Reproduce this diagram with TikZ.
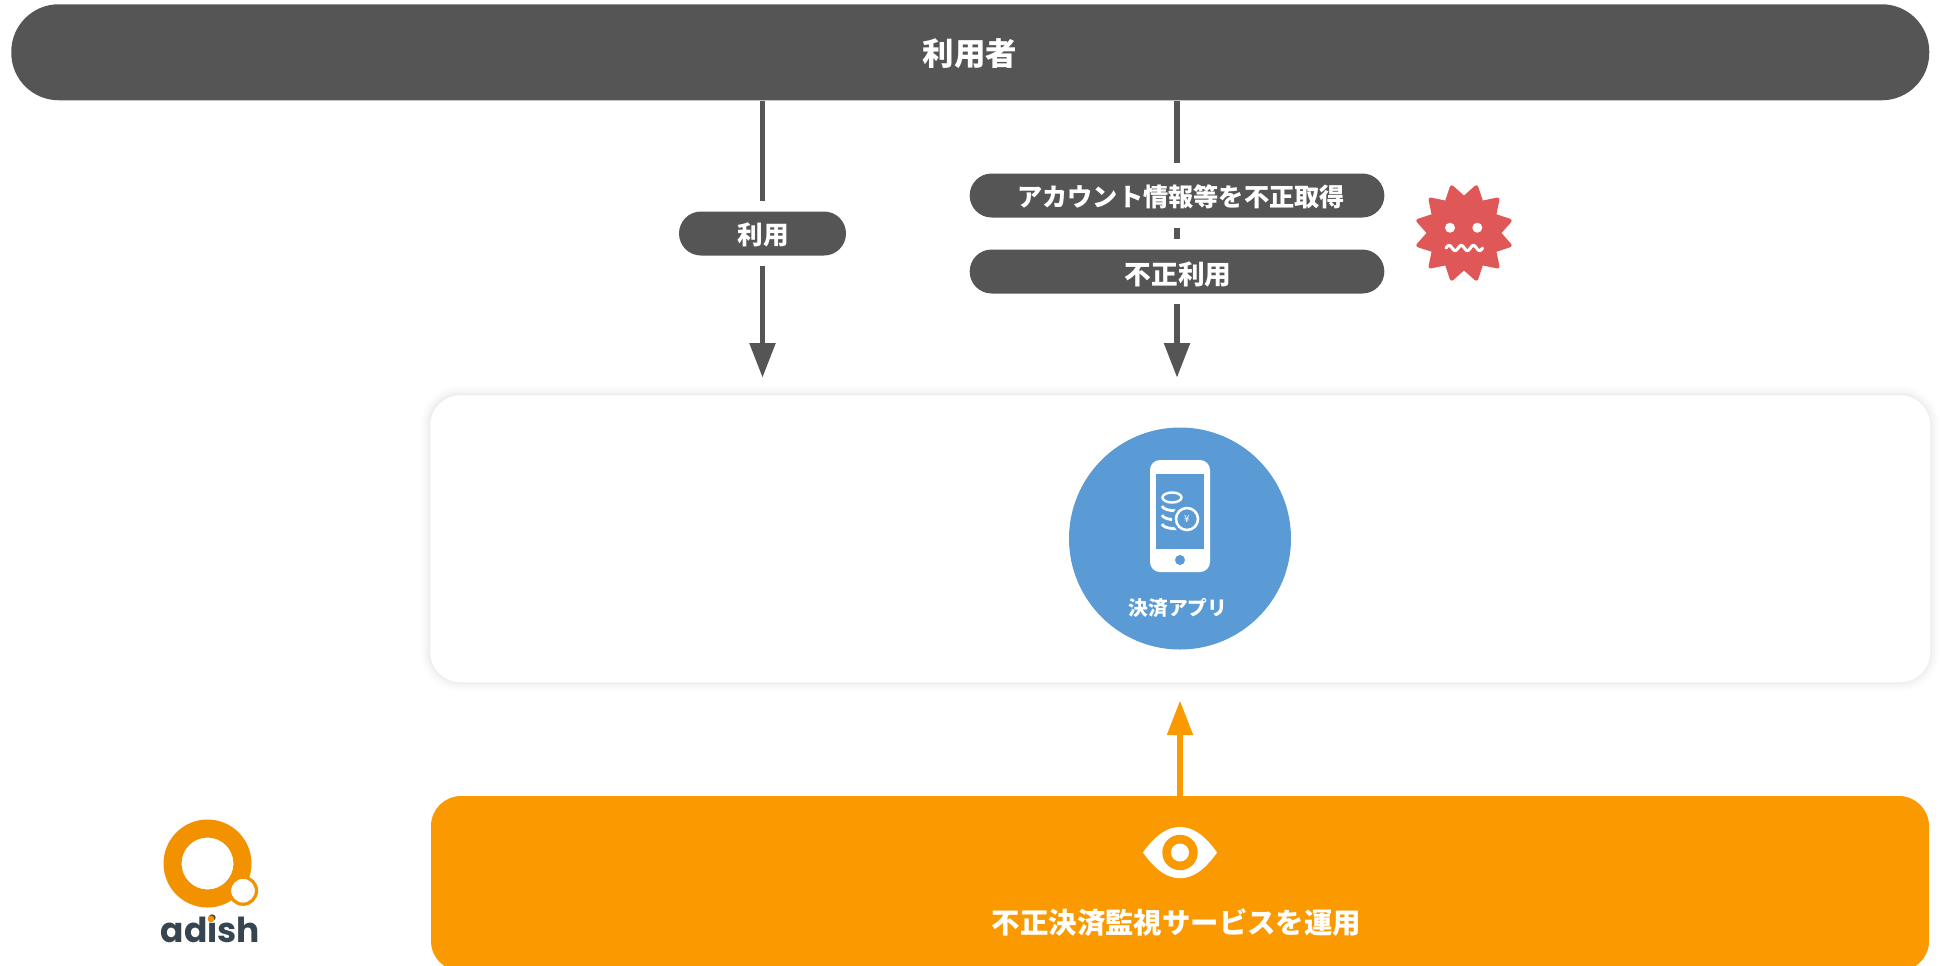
\documentclass[tikz,border=0pt]{standalone}
\usepackage{fontspec}
\usetikzlibrary{arrows.meta,shapes.geometric}
\newfontfamily\cjk{Noto Sans CJK JP}
\newfontfamily\logofont{Poppins}
\definecolor{darkg}{HTML}{555555}
\definecolor{orangeb}{HTML}{FA9A00}
\definecolor{blueb}{HTML}{5B9BD5}
\definecolor{virus}{HTML}{E05757}
\definecolor{logoo}{HTML}{F39200}
\definecolor{logod}{HTML}{36454F}
\tikzset{
  x=0.75pt,y=-0.75pt,
  pill/.style={fill=darkg,text=white,rounded corners=#1,inner sep=0pt},
  conn/.style={draw=darkg,line width=4.1pt},
  connarrow/.style={conn,-{Triangle[width=18.75pt,length=26pt]}},
  orangearrow/.style={draw=orangeb,line width=4pt,-{Triangle[width=18.75pt,length=26pt]}},
  whitetext/.style={text=white,inner sep=0pt}
}
\begin{document}
\begin{tikzpicture}
\useasboundingbox (0,0) rectangle (1941,965);
\clip (0,0) rectangle (1941,965);
% top bar
\node[pill=35.6pt,minimum width=1438.5pt,minimum height=72pt,anchor=north west] (user) at (11,4) {};
\node[whitetext,font=\cjk\bfseries\fontsize{23.6pt}{25pt}\selectfont] (userlabel) at (970,54) {利用者};
% pills
\node[pill=16.5pt,minimum width=125.25pt,minimum height=33pt] (use) at (762.5,233.5) {};
\node[whitetext,font=\cjk\bfseries\fontsize{19.2pt}{21pt}\selectfont] (uselabel) at (763.5,235) {利用};
\node[pill=16.5pt,minimum width=311pt,minimum height=33pt] (steal) at (1177,195.5) {};
\node[whitetext,font=\cjk\bfseries\fontsize{18.9pt}{21pt}\selectfont] (steallabel) at (1181,197) {アカウント情報等を不正取得};
\node[pill=16.5pt,minimum width=311pt,minimum height=33pt] (abuse) at (1177,271.5) {};
\node[whitetext,font=\cjk\bfseries\fontsize{20pt}{21pt}\selectfont] (abuselabel) at (1178,274) {不正利用};
% panel shadow
\foreach \w/\o in {14/0.008,11/0.01,8/0.012,5/0.015,2.5/0.018}{
  \draw[black,opacity=\o,line width=\w pt,rounded corners=22.5pt] (430,395) rectangle (1930,682);
}
\node[fill=white,rounded corners=22.5pt,minimum width=1125pt,minimum height=215.25pt,anchor=north west,inner sep=0pt] (panel) at (430,395) {};
% app circle
\node[circle,fill=blueb,minimum size=166.5pt,inner sep=0pt] (app) at (1180,538.5) {};
\node[fill=white,rounded corners=7.5pt,minimum width=45pt,minimum height=84pt,inner sep=0pt] (phone) at (1180,516) {};
\fill[blueb] (1156,474) rectangle (1204,549);
\fill[blueb] (1180,560) circle[radius=5];
\foreach \yy in {506,515,524}{
  \draw[white,line width=2.1pt] (1162,\yy) .. controls (1164,\yy+5) and (1176,\yy+5) .. (1182,\yy+4.5);
}
\draw[white,line width=1.8pt,fill=blueb] (1172,497.5) ellipse[x radius=9.5,y radius=5];
\draw[blueb,line width=1.5pt,fill=blueb] (1187,519) circle[radius=14];
\draw[white,line width=1.9pt,fill=blueb] (1187,519) circle[radius=11];
\node[text=white,inner sep=0pt,font=\cjk\fontsize{7.5pt}{8pt}\selectfont] (yen) at (1187,519) {¥};
\node[whitetext,font=\cjk\bfseries\fontsize{14.8pt}{16pt}\selectfont] (applabel) at (1178,608) {決済アプリ};
% orange box
\fill[orangeb,rounded corners=22.5pt] (431,796) rectangle (1929,971);
\node[inner sep=0pt,minimum width=1123.5pt,minimum height=126.75pt,anchor=north west] (ops) at (431,796) {};
\node[whitetext,font=\cjk\bfseries\fontsize{21.3pt}{23pt}\selectfont] (opslabel) at (1176.5,923) {不正決済監視サービスを運用};
% eye
\fill[white] (1143,852.5) .. controls (1156,834) and (1168,827) .. (1180,827) .. controls (1192,827) and (1204,834) .. (1217,852.5) .. controls (1204,871) and (1192,878.2) .. (1180,878.2) .. controls (1168,878.2) and (1156,871) .. (1143,852.5) -- cycle;
\fill[orangeb] (1180,852.5) circle[radius=17.7];
\fill[white] (1180,852.5) circle[radius=9];
% connectors
\draw[conn,shorten >=8pt] (user.south -| use.north) -- (use.north);
\draw[connarrow,shorten >=13pt,shorten <=8pt] (use.south) -- (use.south |- panel.north);
\draw[conn,shorten >=8pt] (user.south -| steal.north) -- (steal.north);
\draw[conn,shorten >=8pt,shorten <=8pt] (steal.south) -- (abuse.north);
\draw[connarrow,shorten >=13pt,shorten <=8pt] (abuse.south) -- (abuse.south |- panel.north);
\draw[orangearrow,shorten >=13.5pt] (ops.north -| app.south) -- (app.south |- panel.south);
% virus
\node[star,star points=12,star point ratio=1.36,shape border rotate=15,minimum size=71pt,inner sep=0pt,fill=virus,draw=virus,line width=3pt,line join=round] (bug) at (1464,233) {};
\fill[white] (1450,227.7) circle[radius=5];
\fill[white] (1477.3,227.7) circle[radius=5];
\draw[white,line width=2.3pt,line cap=round] plot[domain=0:3,samples=50,smooth] ({1446+12.2*\x},{248-2.6*sin(360*\x)});
% logo
\fill[logoo,even odd rule] (207.5,863.5) circle[radius=44] (207.5,863.5) circle[radius=26];
\draw[logoo,fill=white,line width=2.4pt] (243,890.7) circle[radius=13.5];
\node[text=logod,inner sep=0pt,font=\logofont\bfseries\fontsize{25.8pt}{27pt}\selectfont] (logotext) at (210.5,929) {adish};
\fill[logoo] (211,919) circle[radius=3.4];
\end{tikzpicture}
\end{document}
